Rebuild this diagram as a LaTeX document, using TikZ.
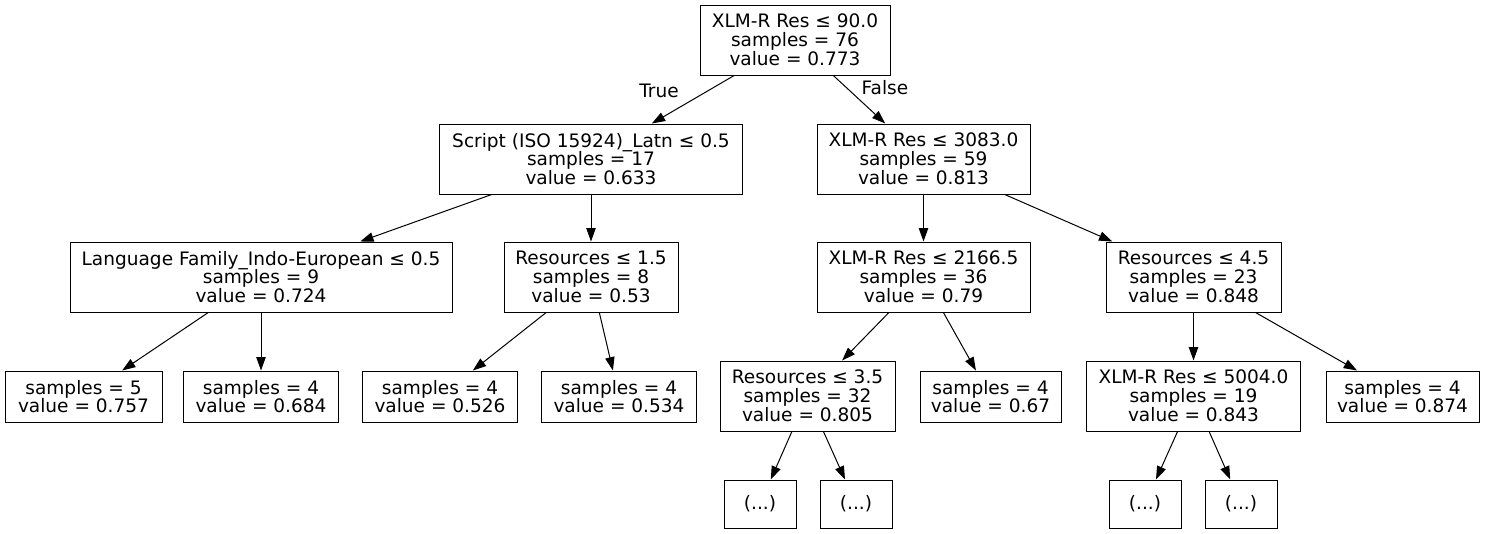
\documentclass[tikz,border=0pt]{standalone}
\usepackage{fontspec}
\setmainfont{DejaVu Sans}
\usetikzlibrary{arrows.meta}
\begin{document}
\begin{tikzpicture}[x=0.75pt,y=-0.75pt,
  bx/.style 2 args={draw=black, line width=0.75pt, rectangle, inner sep=0pt, align=center,
    minimum width=#1*0.75pt, minimum height=#2*0.75pt, font=\fontsize{13.9}{14.1}\selectfont},
  arr/.style={draw, line width=0.75pt, -{Triangle[length=10pt,width=7pt]}},
  lbl/.style={inner sep=0pt, font=\fontsize{13.9}{14.1}\selectfont}]
\useasboundingbox (0,0) rectangle (1485,533);
\node[bx={190}{70}] (root) at (795,40) {XLM-R Res ≤ 90.0\\samples = 76\\value = 0.773};
\node[bx={303}{70}] (script) at (591,159) {Script (ISO 15924)\_Latn ≤ 0.5\\samples = 17\\value = 0.633};
\node[bx={213}{70}] (r3083) at (923.5,159) {XLM-R Res ≤ 3083.0\\samples = 59\\value = 0.813};
\node[bx={382}{70}] (lang) at (261,277) {Language Family\_Indo-European ≤ 0.5\\samples = 9\\value = 0.724};
\node[bx={174}{70}] (r15) at (591,277) {Resources ≤ 1.5\\samples = 8\\value = 0.53};
\node[bx={213}{70}] (r2166) at (923.5,277) {XLM-R Res ≤ 2166.5\\samples = 36\\value = 0.79};
\node[bx={175}{70}] (r45) at (1193.5,277) {Resources ≤ 4.5\\samples = 23\\value = 0.848};
\node[bx={157}{51}] (l1) at (83.5,396.5) {samples = 5\\value = 0.757};
\node[bx={155}{51}] (l2) at (261,396.5) {samples = 4\\value = 0.684};
\node[bx={155}{51}] (l3) at (440,396.5) {samples = 4\\value = 0.526};
\node[bx={155}{51}] (l4) at (619,396.5) {samples = 4\\value = 0.534};
\node[bx={175}{70}] (r35) at (807.5,396) {Resources ≤ 3.5\\samples = 32\\value = 0.805};
\node[bx={141}{51}] (l5) at (990.5,396.5) {samples = 4\\value = 0.67};
\node[bx={214}{70}] (r5004) at (1193.5,396) {XLM-R Res ≤ 5004.0\\samples = 19\\value = 0.843};
\node[bx={153}{51}] (l6) at (1402.5,396.5) {samples = 4\\value = 0.874};
\node[bx={72}{48}] (d1) at (760,504) {(...)};
\node[bx={72}{48}] (d2) at (856,504) {(...)};
\node[bx={72}{48}] (d3) at (1145,504) {(...)};
\node[bx={72}{48}] (d4) at (1241,504) {(...)};
\node[lbl] (tl) at (659,91) {True};
\node[lbl] (fl) at (885,88) {False};
\draw[arr] (root) -- (script);
\draw[arr] (root) -- (r3083);
\draw[arr] (script) -- (lang);
\draw[arr] (script) -- (r15);
\draw[arr] (r3083) -- (r2166);
\draw[arr] (r3083) -- (r45);
\draw[arr] (lang) -- (l1);
\draw[arr] (lang) -- (l2);
\draw[arr] (r15) -- (l3);
\draw[arr] (r15) -- (l4);
\draw[arr] (r2166) -- (r35);
\draw[arr] (r2166) -- (l5);
\draw[arr] (r45) -- (r5004);
\draw[arr] (r45) -- (l6);
\draw[arr] (r35) -- (d1);
\draw[arr] (r35) -- (d2);
\draw[arr] (r5004) -- (d3);
\draw[arr] (r5004) -- (d4);
\end{tikzpicture}
\end{document}
